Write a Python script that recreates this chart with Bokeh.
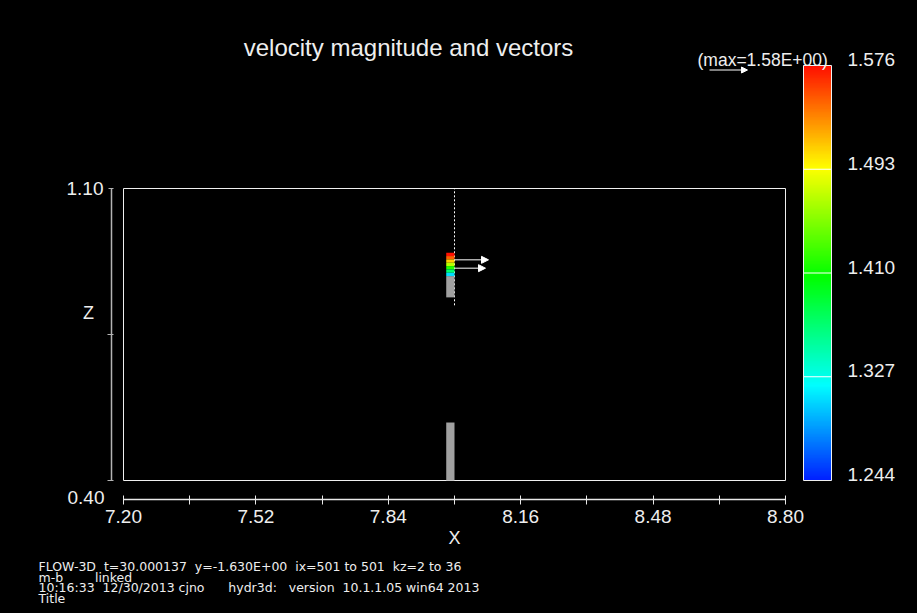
import numpy as np
import colorsys
from bokeh.plotting import figure
from bokeh.models import (LinearAxis, FixedTicker, PrintfTickFormatter, Label, Arrow,
                          NormalHead, LinearColorMapper, ColumnDataSource, Range1d)
from bokeh.embed import file_html
from bokeh.resources import INLINE

# ---------------- data ----------------
X_MIN, X_MAX = 7.20, 8.80
Z_MIN, Z_MAX = 0.40, 1.10
x_major_ticks = [7.20, 7.52, 7.84, 8.16, 8.48, 8.80]
x_minor_ticks = [7.36, 7.68, 8.00, 8.32, 8.64]
z_major_ticks = [1.10]
z_minor_ticks = [0.40, 0.75]
cb_ticks = [1.244, 1.327, 1.410, 1.493, 1.576]
V_MIN, V_MAX = 1.244, 1.576
V_MAX_TEXT = "(max=1.58E+00)"
V_MAX_ARROW = 1.58

cell_left = [7.98] * 7
cell_right = [8.00] * 7
fluid_bottom = [0.938, 0.930, 0.922, 0.914, 0.906, 0.898, 0.890]
fluid_top = [0.946, 0.938, 0.930, 0.922, 0.914, 0.906, 0.898]
fluid_vmag = [1.576, 1.55, 1.51, 1.47, 1.42, 1.37, 1.31]

solid_left = [7.98, 7.98]
solid_right = [8.00, 8.00]
solid_bottom = [0.839, 0.40]
solid_top = [0.890, 0.539]

arrow_x = [8.00, 8.00]
arrow_z = [0.929, 0.909]
arrow_u = [1.414, 1.289]

cut_x = [8.00, 8.00]
cut_z = [0.82, 1.10]

title_text = "velocity magnitude and vectors"
footer_lines = [
    "FLOW-3D  t=30.000137  y=-1.630E+00  ix=501 to 501  kz=2 to 36",
    "m-b        linked",
    "10:16:33  12/30/2013 cjno      hydr3d:   version  10.1.1.05 win64 2013",
    "Title",
]

# ---------------- style / layout ----------------
W, H = 917, 613
FONT = "Liberation Sans"
FOOT_FONT = "DejaVu Sans"
TXT = "#eeeeee"
VEC_SCALE = 0.0581  # data units per unit of velocity

# page-pixel placement of the domain box and colour bar
BOX_L, BOX_R, BOX_T, BOX_B = 123, 785, 188, 480
XAX_Y = 499   # x axis line
ZAX_X = 111   # z axis line
CB_L, CB_R, CB_T, CB_B = 803, 831, 65, 480

px_x = (BOX_R - BOX_L) / (X_MAX - X_MIN)
px_z = (BOX_B - BOX_T) / (Z_MAX - Z_MIN)
px_v = (CB_B - CB_T) / (V_MAX - V_MIN)

palette = []
for i in range(256):
    t = i / 255.0
    h = (232.0 * (1 - t) + 4.0 * t) / 360.0
    r, g, b = colorsys.hsv_to_rgb(h, 1.0, 1.0)
    palette.append("#%02x%02x%02x" % (int(r * 255), int(g * 255), int(b * 255)))
mapper = LinearColorMapper(palette=palette, low=V_MIN, high=V_MAX)

p = figure(width=W, height=H, output_backend="svg", toolbar_location=None,
           x_range=Range1d(X_MIN - BOX_L / px_x, X_MIN + (W - BOX_L) / px_x),
           y_range=Range1d(Z_MIN - (H - BOX_B) / px_z, Z_MIN + BOX_B / px_z),
           x_axis_location=None, y_axis_location=None,
           min_border_left=0, min_border_right=0, min_border_top=0, min_border_bottom=0)
p.extra_x_ranges = {"cbx": Range1d(-CB_L / (CB_R - CB_L), (W - CB_L) / (CB_R - CB_L))}
p.extra_y_ranges = {
    "cby": Range1d(V_MIN - (H - CB_B) / px_v, V_MIN + CB_B / px_v),
    # same scale, shifted so labels sit a few pixels above their value lines
    "cblab": Range1d(V_MIN - (H - CB_B) / px_v - 6 / px_v, V_MIN + CB_B / px_v - 6 / px_v),
}
p.background_fill_color = "black"
p.border_fill_color = "black"
p.outline_line_color = None
p.xgrid.visible = False
p.ygrid.visible = False

xaxis = LinearAxis(bounds=(X_MIN, X_MAX), fixed_location=Z_MIN - (XAX_Y - BOX_B) / px_z,
                   ticker=FixedTicker(ticks=x_major_ticks, minor_ticks=x_minor_ticks),
                   formatter=PrintfTickFormatter(format="%.2f"))
xaxis.axis_line_color = "#e8e8e8"
xaxis.axis_line_width = 1.5
xaxis.major_tick_line_color = "#e8e8e8"
xaxis.minor_tick_line_color = "#e8e8e8"
xaxis.major_tick_in = 4
xaxis.major_tick_out = 5
xaxis.minor_tick_in = 4
xaxis.minor_tick_out = 5
xaxis.major_label_standoff = 5
xaxis.major_label_text_font = FONT
xaxis.major_label_text_font_size = "19px"
xaxis.major_label_text_color = TXT
xaxis.axis_label = "X"
xaxis.axis_label_text_font = FONT
xaxis.axis_label_text_font_size = "18px"
xaxis.axis_label_text_font_style = "normal"
xaxis.axis_label_text_color = TXT
xaxis.axis_label_standoff = 2
p.add_layout(xaxis, "below")

zaxis = LinearAxis(bounds=(Z_MIN, Z_MAX), fixed_location=X_MIN - (BOX_L - ZAX_X) / px_x,
                   ticker=FixedTicker(ticks=z_major_ticks, minor_ticks=z_minor_ticks),
                   formatter=PrintfTickFormatter(format="%.2f"))
zaxis.axis_line_color = "#b4b4b4"
zaxis.axis_line_width = 1.5
zaxis.major_tick_line_color = "#b4b4b4"
zaxis.minor_tick_line_color = "#b4b4b4"
zaxis.major_tick_in = 2
zaxis.major_tick_out = 3
zaxis.minor_tick_in = 2
zaxis.minor_tick_out = 4
zaxis.major_label_standoff = 4
zaxis.major_label_text_font = FONT
zaxis.major_label_text_font_size = "19px"
zaxis.major_label_text_color = TXT
p.add_layout(zaxis, "left")

# domain box
p.quad(left=[X_MIN], right=[X_MAX], bottom=[Z_MIN], top=[Z_MAX],
       fill_alpha=0, line_color="#f0f0f0", line_width=1)

# cut-plane dotted line
p.line(cut_x, cut_z, line_color="white", line_width=1, line_dash="2 2")

# solid (gray) cells
p.quad(left=solid_left, right=solid_right, bottom=solid_bottom, top=solid_top,
       fill_color="#a0a0a0", line_color=None)

# fluid cells coloured by velocity magnitude
src = ColumnDataSource(dict(l=cell_left, r=cell_right, b=fluid_bottom, t=fluid_top, v=fluid_vmag))
p.quad(left="l", right="r", bottom="b", top="t", source=src,
       fill_color={"field": "v", "transform": mapper}, line_color=None)

# velocity vectors
for ax_, az_, au_ in zip(arrow_x, arrow_z, arrow_u):
    p.add_layout(Arrow(end=NormalHead(size=7, fill_color="white", line_color="white"),
                       x_start=ax_, y_start=az_, x_end=ax_ + au_ * VEC_SCALE, y_end=az_,
                       line_color="white", line_width=1))

# legend arrow (max)
leg_x = X_MIN + (709 - BOX_L) / px_x
leg_z = Z_MIN + (BOX_B - 69.5) / px_z
p.add_layout(Arrow(end=NormalHead(size=6, fill_color="white", line_color="white"),
                   x_start=leg_x, y_start=leg_z, x_end=leg_x + V_MAX_ARROW * VEC_SCALE, y_end=leg_z,
                   line_color="white", line_width=1))

def lab(text, px, py, size, align="left", baseline="middle", font=FONT):
    p.add_layout(Label(x=px, y=H - py, x_units="screen", y_units="screen",
                       text=text.replace(" ", "\u00a0"),
                       text_font=font, text_font_size=size, text_color=TXT,
                       text_align=align, text_baseline=baseline))

lab(title_text, 408, 47, "24px", align="center")
lab(V_MAX_TEXT, 697, 59, "17.5px")
lab("Z", 88, 312, "18px", align="center")
lab("%.2f" % Z_MIN, 104, 497, "19px", align="right")
for i, line in enumerate(footer_lines):
    lab(line, 38, 566 + 10.7 * i, "12.5px", font=FOOT_FONT)

# ---------------- colour bar ----------------
ramp = np.linspace(V_MIN, V_MAX, 415).reshape(-1, 1)
p.image(image=[ramp], x=0, y=V_MIN, dw=1, dh=V_MAX - V_MIN, color_mapper=mapper,
        x_range_name="cbx", y_range_name="cby")
inner = cb_ticks[1:-1]
p.segment(x0=[0] * len(inner), x1=[1] * len(inner), y0=inner, y1=inner,
          line_color="white", line_width=1, x_range_name="cbx", y_range_name="cby")
p.quad(left=[0], right=[1], bottom=[V_MIN], top=[V_MAX], fill_alpha=0,
       line_color="#f0f0f0", line_width=1, x_range_name="cbx", y_range_name="cby")

cbaxis = LinearAxis(x_range_name="cbx", y_range_name="cblab", fixed_location=1,
                    ticker=FixedTicker(ticks=cb_ticks, minor_ticks=[]),
                    formatter=PrintfTickFormatter(format="%.3f"))
cbaxis.axis_line_color = None
cbaxis.major_tick_line_color = None
cbaxis.minor_tick_line_color = None
cbaxis.major_tick_in = 0
cbaxis.major_tick_out = 0
cbaxis.major_label_standoff = 16
cbaxis.major_label_text_font = FONT
cbaxis.major_label_text_font_size = "19px"
cbaxis.major_label_text_color = TXT
p.add_layout(cbaxis, "right")

html = file_html(p, INLINE)
html = html.replace("</head>", "<style>html,body{background-color:#000000;}</style></head>", 1)
open("out.html", "w").write(html)
